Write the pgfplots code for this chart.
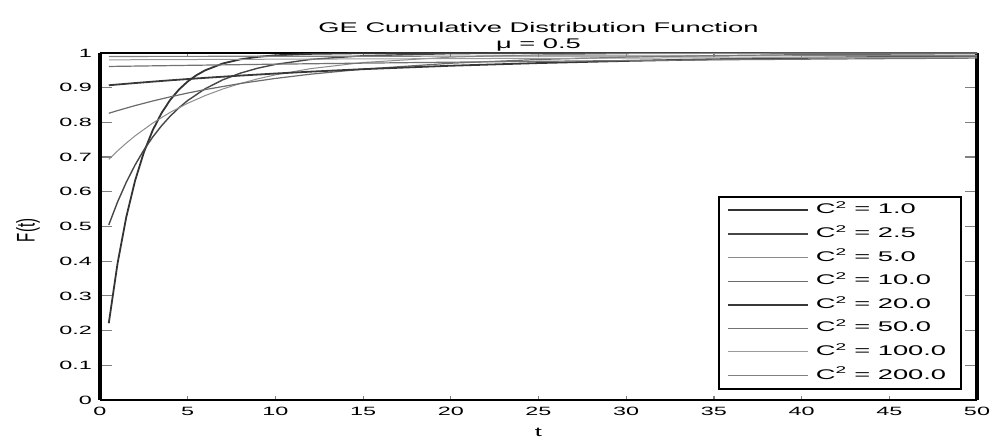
\documentclass[border=0pt]{standalone}
\usepackage{pgfplots}
\pgfplotsset{compat=1.18}
\usepackage{fontspec}
\setmainfont{Liberation Sans}[FakeStretch=1.95]
\newfontfamily\labelfont{Liberation Sans}

\definecolor{gA}{gray}{0.2}
\definecolor{gB}{gray}{0.28}
\definecolor{gC}{gray}{0.55}
\definecolor{gD}{gray}{0.42}
\definecolor{gE}{gray}{0.22}
\definecolor{gF}{gray}{0.45}
\definecolor{gG}{gray}{0.6}
\definecolor{gH}{gray}{0.5}

\begin{document}
\begin{tikzpicture}[x=1pt,y=1pt]
\path[use as bounding box] (-100pt,-39pt) rectangle (894pt,400pt);
\begin{axis}[
  scale only axis,
  width=877pt, height=347pt,
  xmin=0, xmax=50, ymin=0, ymax=1,
  xtick={0,5,...,50},
  ytick={0,0.1,...,1},
  yticklabels={0,0.1,0.2,0.3,0.4,0.5,0.6,0.7,0.8,0.9,1},
  /pgf/number format/assume math mode=true,
  tick label style={font=\fontsize{12}{14}\selectfont},
  yticklabel style={inner sep=0pt, xshift=-8pt},
  xticklabel style={inner sep=0pt, yshift=-7pt},
  tick align=inside,
  major tick length=6pt,
  xtick style={line width=1.2pt, /pgfplots/major tick length=4pt},
  ytick style={line width=1.2pt, /pgfplots/major tick length=12pt},
  separate axis lines,
  x axis line style={line width=2.2pt},
  y axis line style={line width=3.6pt},
  title={GE Cumulative Distribution Function\\μ = 0.5},
  title style={align=center, font=\fontsize{14}{16}\selectfont,
    at={(0.5,1)}, anchor=south, inner sep=0pt, yshift=-4pt},
  xlabel={t},
  xlabel style={font=\fontsize{13}{15}\selectfont,
    at={(axis description cs:0.5,0)}, anchor=center, yshift=-32pt},
  ylabel={\labelfont\fontsize{15}{17}\selectfont\scalebox{1}[1.7]{F(t)}},
  ylabel style={at={(axis description cs:0,0.5)}, anchor=center,
    yshift=72pt, xshift=-4pt},
  legend style={at={(0.983,0.029)}, anchor=south east,
    draw=black, line width=1.8pt, inner sep=8pt,
    font=\fontsize{14}{16}\selectfont,
    nodes={inner xsep=7pt, inner ysep=0pt, text height=9pt, text depth=2pt},
    row sep=12.6pt},
  legend cell align=left,
  legend image code/.code={\draw[#1] (0pt,0pt) -- (80pt,0pt);},
  every axis plot/.append style={line join=round},
]
% C^2 = 1.0
\addplot[gA, line width=1.8pt] coordinates {
(0.5,0.2212)(1,0.3935)(1.5,0.5276)(2,0.6321)(2.5,0.7135)(3,0.7769)(3.5,0.8262)
(4,0.8647)(4.5,0.8946)(5,0.9179)(5.5,0.9361)(6,0.9502)(7,0.9698)(8,0.9817)
(9,0.9889)(10,0.9933)(12,0.9975)(15,0.9994)(20,1.0000)(30,1.0000)(40,1.0000)(50,1.0000)};
\addlegendentry{C\textsuperscript{2} = 1.0}
% C^2 = 2.5
\addplot[gB, line width=1.4pt] coordinates {
(0.5,0.5046)(1,0.5706)(1.5,0.6277)(2,0.6773)(2.5,0.7203)(3,0.7575)(3.5,0.7898)
(4,0.8178)(4.5,0.8420)(5,0.8631)(6,0.8971)(7,0.9227)(8,0.9419)(9,0.9563)
(10,0.9672)(12,0.9815)(15,0.9921)(20,0.9981)(25,0.9995)(30,0.9999)(40,1.0000)(50,1.0000)};
\addlegendentry{C\textsuperscript{2} = 2.5}
% C^2 = 5.0
\addplot[gC, line width=1.0pt] coordinates {
(0.5,0.6933)(1,0.7178)(1.5,0.7404)(2,0.7612)(3,0.7978)(4,0.8289)(5,0.8551)
(6,0.8774)(7,0.8962)(8,0.9121)(9,0.9256)(10,0.9370)(12,0.9549)(15,0.9726)
(20,0.9881)(25,0.9948)(30,0.9978)(40,0.9996)(50,0.9999)};
\addlegendentry{C\textsuperscript{2} = 5.0}
% C^2 = 10.0
\addplot[gD, line width=1.2pt] coordinates {
(0.5,0.8263)(1,0.8340)(2,0.8484)(3,0.8616)(4,0.8736)(5,0.8846)(6,0.8946)
(8,0.9121)(10,0.9267)(12,0.9389)(15,0.9535)(20,0.9705)(25,0.9813)(30,0.9881)
(35,0.9925)(40,0.9952)(50,0.9981)};
\addlegendentry{C\textsuperscript{2} = 10.0}
% C^2 = 20.0
\addplot[gE, line width=1.8pt] coordinates {
(0.5,0.9070)(1,0.9092)(2,0.9134)(3,0.9174)(4,0.9213)(5,0.9249)(6,0.9284)
(8,0.9349)(10,0.9408)(12,0.9462)(15,0.9534)(20,0.9633)(25,0.9710)(30,0.9772)
(35,0.9820)(40,0.9858)(45,0.9888)(50,0.9912)};
\addlegendentry{C\textsuperscript{2} = 20.0}
% C^2 = 50.0
\addplot[gF, line width=1.2pt] coordinates {
(0.5,0.9612)(5,0.9644)(10,0.9678)(15,0.9708)(20,0.9735)(25,0.9760)(30,0.9782)
(35,0.9803)(40,0.9821)(45,0.9838)(50,0.9853)};
\addlegendentry{C\textsuperscript{2} = 50.0}
% C^2 = 100.0
\addplot[gG, line width=1.0pt] coordinates {
(0.5,0.9803)(10,0.9821)(20,0.9838)(30,0.9853)(40,0.9867)(50,0.9879)};
\addlegendentry{C\textsuperscript{2} = 100.0}
% C^2 = 200.0
\addplot[gH, line width=1.2pt] coordinates {
(0.5,0.9901)(10,0.9905)(20,0.9910)(30,0.9914)(40,0.9918)(50,0.9922)};
\addlegendentry{C\textsuperscript{2} = 200.0}
\end{axis}
\end{tikzpicture}
\end{document}
